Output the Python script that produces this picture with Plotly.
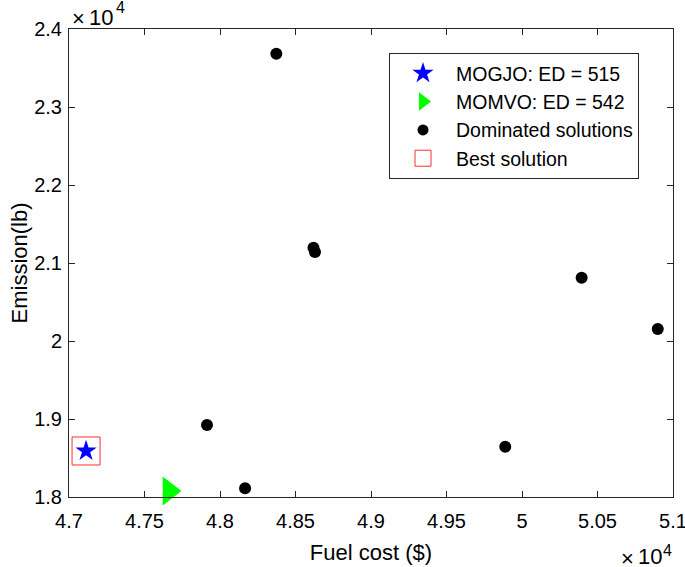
import plotly.graph_objects as go

# Data (values in $ and lb)
mogjo_x = [47113]
mogjo_y = [18590]
momvo_x = [47662]
momvo_y = [18077]
dom_x = [47914, 48166, 48373, 48619, 48629, 49889, 50395, 50899]
dom_y = [18923, 18111, 23683, 21196, 21141, 18645, 20812, 20154]
best_x = [47113]
best_y = [18590]

x_ticks = [47000, 47500, 48000, 48500, 49000, 49500, 50000, 50500, 51000]
x_labels = ["4.7", "4.75", "4.8", "4.85", "4.9", "4.95", "5", "5.05", "5.1"]
y_ticks = [18000, 19000, 20000, 21000, 22000, 23000, 24000]
y_labels = ["1.8", "1.9", "2", "2.1", "2.2", "2.3", "2.4"]

FONT = "Liberation Sans, Arial, sans-serif"
AX = "#262626"

fig = go.Figure()
fig.add_trace(go.Scatter(x=dom_x, y=dom_y, mode="markers", name="Dominated solutions",
                         marker=dict(symbol="circle", size=12, color="black"),
                         showlegend=False, cliponaxis=False))
fig.add_trace(go.Scatter(x=mogjo_x, y=mogjo_y, mode="markers", name="MOGJO: ED = 515",
                         marker=dict(symbol="star", size=16, color="#0000ff", line=dict(width=0)),
                         cliponaxis=False))
fig.add_trace(go.Scatter(x=momvo_x, y=momvo_y, mode="markers", name="MOMVO: ED = 542",
                         marker=dict(symbol="triangle-right", size=25, color="#00ff00", line=dict(width=0)),
                         cliponaxis=False))
fig.add_trace(go.Scatter(x=[None], y=[None], mode="markers", name="Dominated solutions",
                         marker=dict(symbol="circle", size=11, color="black")))
fig.add_trace(go.Scatter(x=best_x, y=best_y, mode="markers", name="Best solution",
                         marker=dict(symbol="square-open", size=28, color="#ff3030",
                                     line=dict(width=1, color="#ff3030")),
                         cliponaxis=False))

axis_common = dict(showline=True, linecolor=AX, linewidth=1, mirror="ticks",
                   ticks="inside", ticklen=6, tickcolor=AX, tickwidth=1,
                   showgrid=False, zeroline=False, automargin=False,
                   ticklabeloverflow="allow",
                   tickfont=dict(family=FONT, size=20, color="black"))

fig.update_xaxes(range=[47000, 51000], tickvals=x_ticks, ticktext=x_labels,
                 title=dict(text="Fuel cost ($)", font=dict(family=FONT, size=22, color="black"), standoff=13),
                 ticklabelstandoff=6, **axis_common)
fig.update_yaxes(range=[18000, 24000], tickvals=y_ticks, ticktext=y_labels,
                 title=dict(text="Emission(lb)", font=dict(family=FONT, size=22, color="black"), standoff=0),
                 ticklabelstandoff=2, **axis_common)

# plot area in page pixels: x 69..673, y 29..497
PX0, PY0, PW, PH = 69.0, 497.0, 604.0, 468.0
big = dict(family=FONT, size=22, color="black")
sup = dict(family=FONT, size=16, color="black")


def ann(text, px, anchor, yref_val, yshift, font):
    return dict(text=text, xref="paper", yref="paper", x=(px - PX0) / PW, y=yref_val,
                xanchor=anchor, yanchor="middle", showarrow=False, yshift=yshift, font=font)


fig.update_layout(
    width=685, height=567,
    margin=dict(l=69, r=12, t=29, b=70),
    plot_bgcolor="white", paper_bgcolor="white",
    font=dict(family=FONT, size=20, color="black"),
    legend=dict(x=(389 - PX0) / PW, y=(PY0 - 53) / PH, xanchor="left", yanchor="top",
                bordercolor=AX, borderwidth=1, bgcolor="white",
                font=dict(family=FONT, size=19.5, color="black"),
                itemwidth=56, traceorder="normal"),
    annotations=[
        ann("×", 78, "center", 1, 10.5, big),
        ann("10", 87, "left", 1, 12, big),
        ann("4", 114, "left", 1, 22, sup),
        ann("×", 627.5, "center", 0, -61, big),
        ann("10", 636, "left", 0, -59, big),
        ann("4", 661, "left", 0, -53, sup),
    ],
)

fig.write_html("out.html", config={"displayModeBar": False},
               post_script="document.body.style.margin='0';")
